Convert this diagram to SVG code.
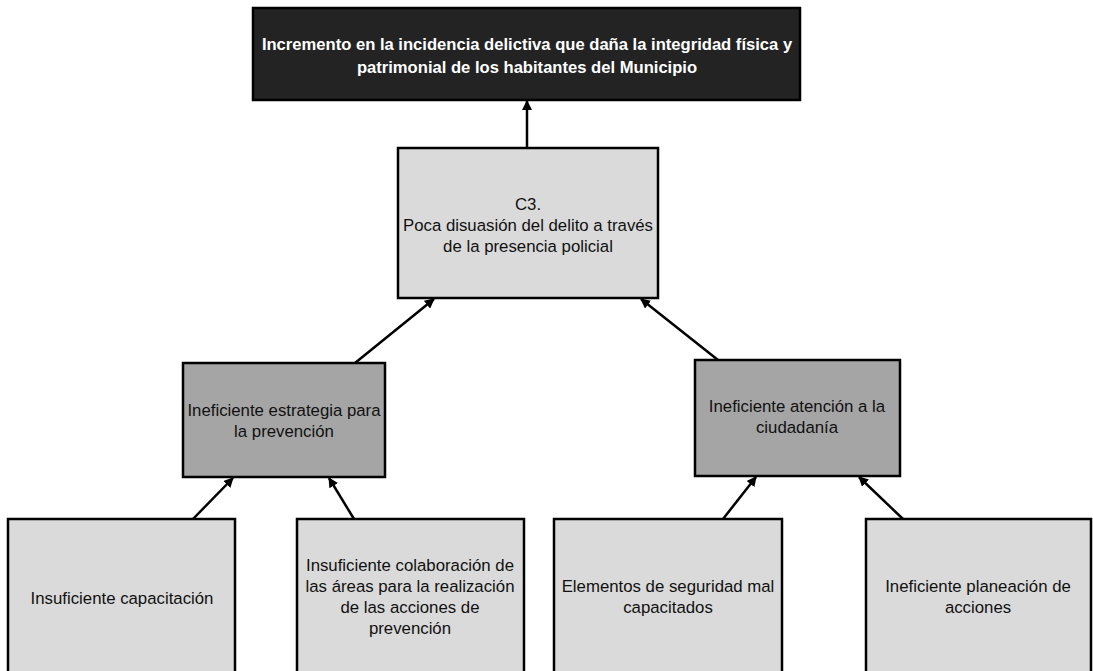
<svg xmlns="http://www.w3.org/2000/svg" width="1093" height="671" viewBox="0 0 1093 671">
<style>
.box{stroke:#000;stroke-width:2.5}
.dark{fill:#232323}
.light{fill:#dadada}
.mid{fill:#a5a5a5}
text{font-family:"Liberation Sans",Arial,sans-serif;font-size:16.8px;fill:#111;text-anchor:middle}
.tt{font-weight:bold;fill:#fff;font-size:16.6px}
.conn line{stroke:#000;stroke-width:2.5;marker-end:url(#ah)}
</style>
<defs>
<marker id="ah" viewBox="0 0 10 10" refX="9" refY="5" markerWidth="4" markerHeight="4" orient="auto" markerUnits="strokeWidth">
<path d="M0,0 L10,5 L0,10 z" fill="#000"/>
</marker>
</defs>
<rect width="1093" height="671" fill="#fff"/>
<g id="n-top">
<rect class="box dark" x="253" y="8" width="547" height="92"/>
<text class="tt" x="527" y="50">Incremento en la incidencia delictiva que daña la integridad física y</text>
<text class="tt" x="527" y="73">patrimonial de los habitantes del Municipio</text>
</g>
<g id="n-c3">
<rect class="box light" x="398" y="148" width="260" height="150"/>
<text x="528" y="210">C3.</text>
<text x="528" y="231">Poca disuasión del delito a través</text>
<text x="528" y="252">de la presencia policial</text>
</g>
<g id="n-left">
<rect class="box mid" x="183" y="363" width="202" height="114"/>
<text x="284" y="416">Ineficiente estrategia para</text>
<text x="284" y="437">la prevención</text>
</g>
<g id="n-right">
<rect class="box mid" x="695" y="360" width="205" height="116"/>
<text x="797" y="412">Ineficiente atención a la</text>
<text x="797" y="433">ciudadanía</text>
</g>
<g id="n-b1">
<rect class="box light" x="8" y="519" width="227" height="160"/>
<text x="122" y="604">Insuficiente capacitación</text>
</g>
<g id="n-b2">
<rect class="box light" x="297" y="519" width="227" height="160"/>
<text x="410" y="571">Insuficiente colaboración de</text>
<text x="410" y="592">las áreas para la realización</text>
<text x="410" y="613">de las acciones de</text>
<text x="410" y="634">prevención</text>
</g>
<g id="n-b3">
<rect class="box light" x="554" y="519" width="228" height="160"/>
<text x="668" y="592">Elementos de seguridad mal</text>
<text x="668" y="613">capacitados</text>
</g>
<g id="n-b4">
<rect class="box light" x="866" y="519" width="225" height="160"/>
<text x="978" y="592">Ineficiente planeación de</text>
<text x="978" y="613">acciones</text>
</g>
<g class="conn" id="connectors">
<line x1="527" y1="148" x2="527" y2="101"/>
<line x1="355" y1="363" x2="434" y2="299"/>
<line x1="718" y1="360" x2="641" y2="299"/>
<line x1="193" y1="519" x2="233" y2="478"/>
<line x1="354" y1="519" x2="329" y2="478"/>
<line x1="723" y1="519" x2="756" y2="477"/>
<line x1="903" y1="519" x2="859" y2="477"/>
</g>
</svg>
